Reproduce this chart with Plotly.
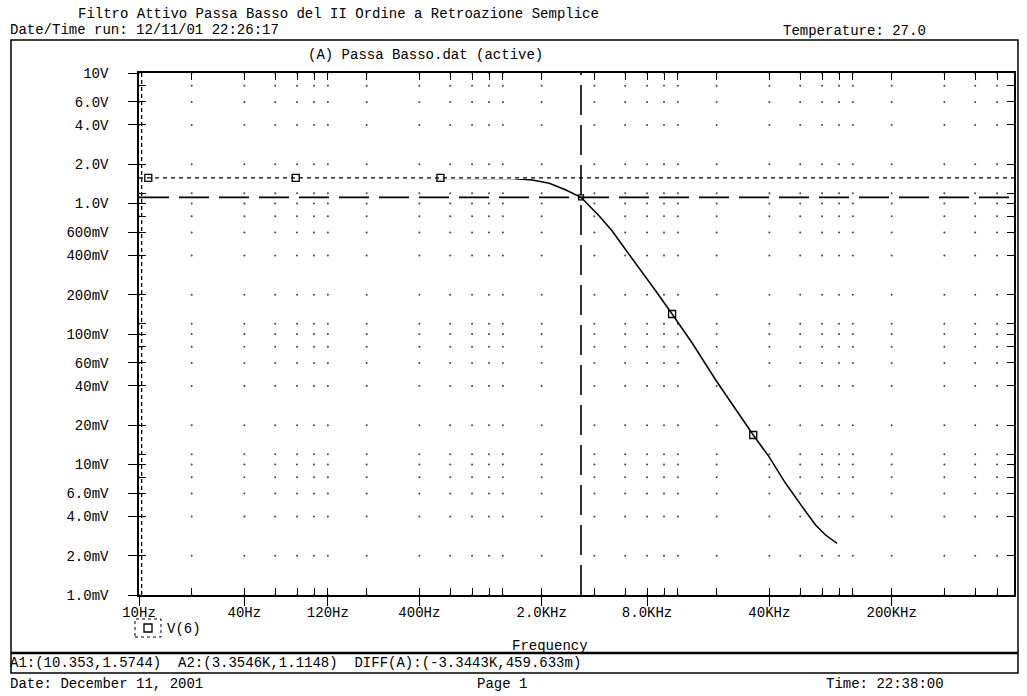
import math
import plotly.graph_objects as go

W, H = 1027, 696
FONT = "Liberation Mono, Courier New, monospace"

# ---- data ----
freq_hz = [10, 100, 500, 1000, 1355, 1768, 2211, 2753, 3354.6, 4266, 5058, 6056,
           7211, 8980, 11125, 14520, 19750, 25680, 32360, 39780, 49530, 61580,
           73450, 83750, 97500]
v6_volts = [1.5744, 1.5744, 1.5742, 1.572, 1.555, 1.514, 1.428, 1.269, 1.1148, 0.802,
            0.6157, 0.440, 0.3203, 0.2136, 0.1423, 0.0849, 0.0444, 0.0262, 0.01683,
            0.01148, 0.00718, 0.00475, 0.00344, 0.00288, 0.00249]

marker_freq = [11.3, 78.6, 528, 11125, 32360]
marker_volts = [1.5744, 1.5744, 1.5744, 0.1423, 0.01683]

cursor_a1 = [10.353, 1.5744]
cursor_a2 = [3354.6, 1.1148]

x_major_vals = [10, 40, 120, 400, 2000, 8000, 40000, 200000]
x_major_text = ["10Hz", "40Hz", "120Hz", "400Hz", "2.0KHz", "8.0KHz", "40KHz", "200KHz"]
x_minor_vals = [20, 60, 80, 100, 200, 600, 800, 1000, 1200, 4000, 6000, 10000, 12000,
                20000, 60000, 80000, 100000, 120000, 400000, 600000, 800000]

y_major_vals = [10, 6, 4, 2, 1, 0.6, 0.4, 0.2, 0.1, 0.06, 0.04, 0.02, 0.01, 0.006,
                0.004, 0.002, 0.001]
y_major_text = ["10V", "6.0V", "4.0V", "2.0V", "1.0V", "600mV", "400mV", "200mV",
                "100mV", "60mV", "40mV", "20mV", "10mV", "6.0mV", "4.0mV", "2.0mV",
                "1.0mV"]
y_minor_vals = [8, 1.2, 0.8, 0.12, 0.08, 0.012, 0.008]

x_range = [10, 1e6]
y_range = [1e-3, 10]

# ---- helpers ----
def px(x):
    return x / W


def py(y):
    return 1 - y / H


all_x = sorted(x_major_vals + x_minor_vals)
all_y = sorted(y_major_vals + y_minor_vals)

fig = go.Figure()

# dot grid at tick intersections
gx, gy = [], []
for xv in all_x:
    for yv in all_y:
        gx.append(xv)
        gy.append(yv)
fig.add_trace(go.Scatter(x=gx, y=gy, mode="markers",
                         marker=dict(size=2, color="#444444", line=dict(width=0)),
                         hoverinfo="skip"))

# the trace V(6)
fig.add_trace(go.Scatter(x=freq_hz, y=v6_volts, mode="lines",
                         line=dict(color="black", width=1.5), hoverinfo="skip"))

# cursor A1 (short dashes) - drawn xor-like over the trace
fig.add_trace(go.Scatter(x=x_range, y=[cursor_a1[1]] * 2, mode="lines",
                         line=dict(color="white", width=2.2), hoverinfo="skip"))
fig.add_trace(go.Scatter(x=x_range, y=[cursor_a1[1]] * 2, mode="lines",
                         line=dict(color="black", width=1.3, dash="4px,4px"),
                         hoverinfo="skip"))
fig.add_trace(go.Scatter(x=[cursor_a1[0]] * 2, y=y_range, mode="lines",
                         line=dict(color="black", width=1.3, dash="4px,3px"),
                         hoverinfo="skip"))

# cursor A2 (long dashes)
fig.add_trace(go.Scatter(x=x_range, y=[cursor_a2[1]] * 2, mode="lines",
                         line=dict(color="black", width=1.6, dash="30px,10px"),
                         hoverinfo="skip"))
fig.add_trace(go.Scatter(x=[cursor_a2[0]] * 2, y=y_range, mode="lines",
                         line=dict(color="black", width=1.6, dash="30px,10px"),
                         hoverinfo="skip"))
fig.add_trace(go.Scatter(x=[cursor_a2[0]], y=[cursor_a2[1]], mode="markers",
                         marker=dict(symbol="square-open", size=5, color="black",
                                     line=dict(width=1.2)),
                         hoverinfo="skip"))

# trace markers
fig.add_trace(go.Scatter(x=marker_freq, y=marker_volts, mode="markers",
                         marker=dict(symbol="square-open", size=7, color="black",
                                     line=dict(width=1.3, color="black")),
                         hoverinfo="skip"))

# dummy traces so the overlay axes (inside ticks) get drawn
fig.add_trace(go.Scatter(x=[100], y=[1], xaxis="x2", yaxis="y2", mode="markers",
                         marker=dict(opacity=0), hoverinfo="skip"))
fig.add_trace(go.Scatter(x=[100], y=[1], xaxis="x3", yaxis="y3", mode="markers",
                         marker=dict(opacity=0), hoverinfo="skip"))

lx = [math.log10(v) for v in x_range]
ly = [math.log10(v) for v in y_range]
dom_x = [139 / W, 1014 / W]
dom_y = [1 - 595 / H, 1 - 73 / H]
tickfont = dict(family=FONT, size=14, color="black")

inside_x = dict(type="log", range=lx, overlaying="x", anchor="y", tickmode="array",
                tickvals=all_x, ticks="inside", ticklen=7, tickwidth=1.2,
                tickcolor="black", showticklabels=False, showline=False,
                showgrid=False, zeroline=False, automargin=False)
inside_y = dict(type="log", range=ly, overlaying="y", anchor="x", tickmode="array",
                tickvals=all_y, ticks="inside", ticklen=7, tickwidth=1.2,
                tickcolor="black", showticklabels=False, showline=False,
                showgrid=False, zeroline=False, automargin=False)

fig.update_layout(
    template="none",
    width=W, height=H,
    autosize=False,
    margin=dict(l=0, r=0, t=0, b=0, pad=0, autoexpand=False),
    paper_bgcolor="white", plot_bgcolor="white",
    showlegend=False,
    font=dict(family=FONT, size=14, color="black"),
    xaxis=dict(type="log", range=lx, domain=dom_x, anchor="y", tickmode="array",
               tickvals=x_major_vals, ticktext=x_major_text, ticks="outside",
               ticklen=9, tickwidth=1.2, tickcolor="black", showline=True,
               linecolor="black", linewidth=1.5, mirror=True, showgrid=False,
               zeroline=False, tickfont=tickfont, automargin=False,
               ticklabelstandoff=-6),
    yaxis=dict(type="log", range=ly, domain=dom_y, anchor="x", tickmode="array",
               tickvals=y_major_vals, ticktext=y_major_text, ticks="outside",
               ticklen=9, tickwidth=1.2, tickcolor="black", showline=True,
               linecolor="black", linewidth=1.5, mirror=True, showgrid=False,
               zeroline=False, tickfont=tickfont, ticklabelstandoff=17,
               automargin=False),
    xaxis2=dict(inside_x, side="bottom"),
    xaxis3=dict(inside_x, side="top"),
    yaxis2=dict(inside_y, side="left"),
    yaxis3=dict(inside_y, side="right"),
)

# frame
shapes = [
    dict(type="rect", xref="paper", yref="paper", x0=px(11), x1=px(1018),
         y0=py(673), y1=py(40), line=dict(color="black", width=1.5)),
    dict(type="line", xref="paper", yref="paper", x0=px(11), x1=px(1018),
         y0=py(653), y1=py(653), line=dict(color="black", width=2.5)),
    # legend symbol
    dict(type="rect", xref="paper", yref="paper", x0=px(135), x1=px(161),
         y0=py(637), y1=py(619), line=dict(color="black", width=1, dash="3px,3px")),
    dict(type="rect", xref="paper", yref="paper", x0=px(144), x1=px(152),
         y0=py(632), y1=py(624), line=dict(color="black", width=1.3)),
]
fig.update_layout(shapes=shapes)


def note(text, x, y, anchor="left"):
    fig.add_annotation(text=text, xref="paper", yref="paper", x=px(x), y=py(y),
                       xanchor=anchor, yanchor="middle", showarrow=False,
                       font=dict(family=FONT, size=14, color="black"))


note("Filtro Attivo Passa Basso del II Ordine a Retroazione Semplice", 76, 14)
note("Date/Time run: 12/11/01 22:26:17", 8, 30)
note("Temperature: 27.0", 781, 31)
note("(A) Passa Basso.dat (active)", 306, 55)
note("V(6)", 165, 629)
note("Frequency", 550, 646, anchor="center")
note("A1:(10.353,1.5744)  A2:(3.3546K,1.1148)  DIFF(A):(-3.3443K,459.633m)", 8, 663)
note("Date: December 11, 2001", 8, 684)
note("Page 1", 475, 684)
note("Time: 22:38:00", 824, 684)

fig.write_html(
    "out.html",
    config={"responsive": False, "displayModeBar": False},
    post_script="document.body.style.margin='0';document.body.style.padding='0';"
                "document.body.style.overflow='hidden';",
)
